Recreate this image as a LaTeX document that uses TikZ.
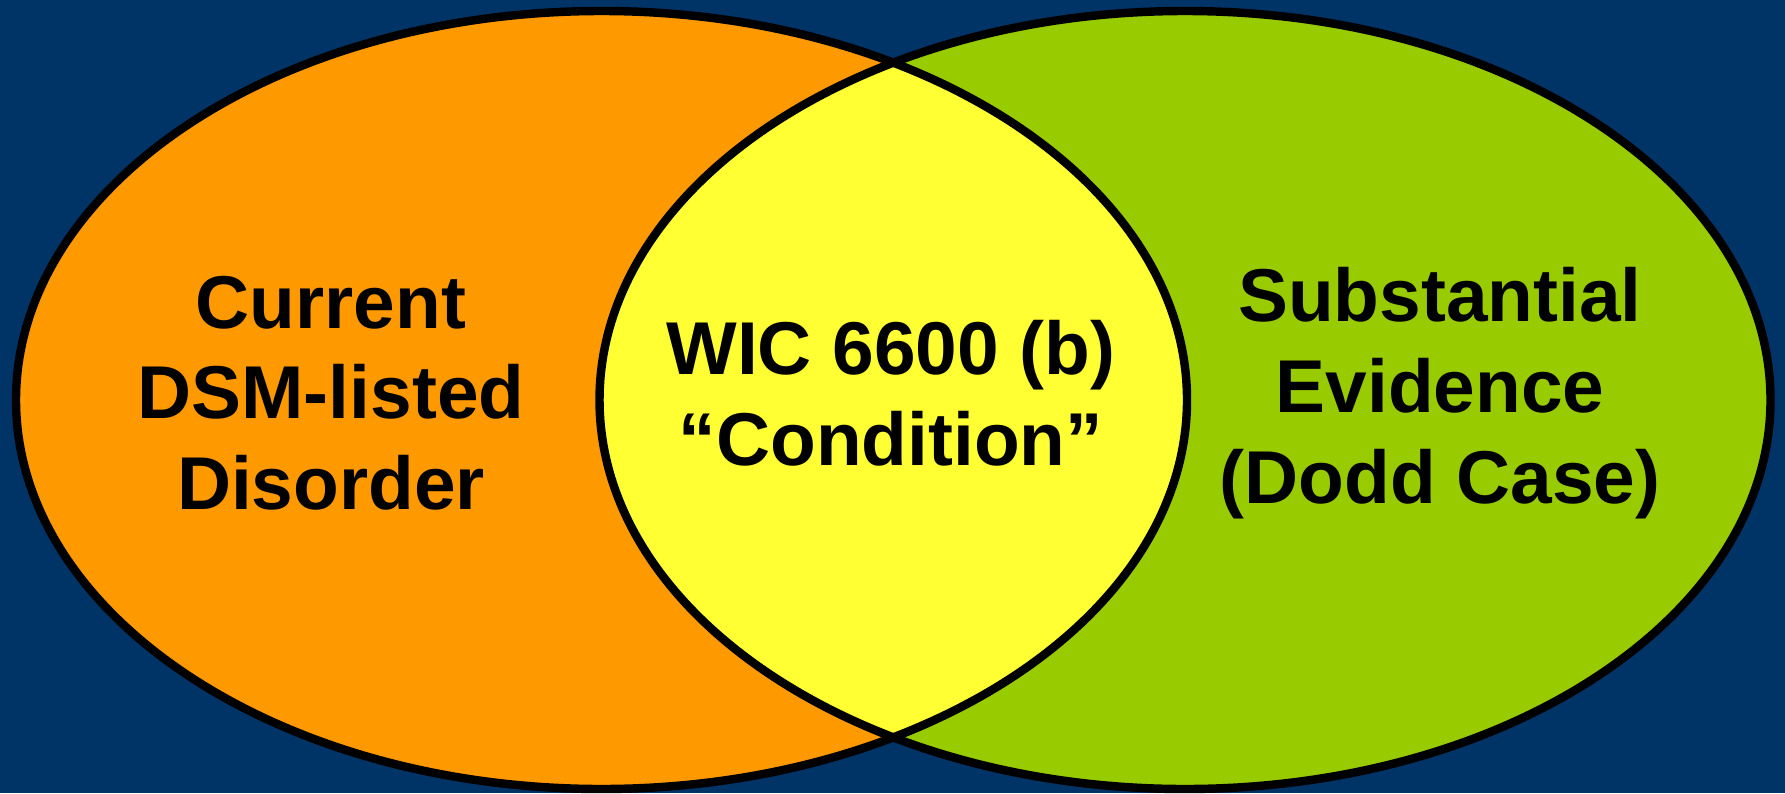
\documentclass[tikz,border=0pt]{standalone}
\usepackage{fontspec}
\setmainfont{Liberation Sans}
\usepackage{xcolor}
\usepackage{tikz}
\definecolor{bgblue}{HTML}{003366}
\definecolor{setorange}{HTML}{FF9900}
\definecolor{setgreen}{HTML}{99CC00}
\definecolor{setyellow}{HTML}{FFFF33}
\tikzset{
  rim/.style={line width=2.4pt, black},
  setlabel/.style={align=center, font=\fontsize{21.3}{25.8}\selectfont\bfseries, text=black}
}

\begin{document}
\begin{tikzpicture}
        %BACKGROUND
        \fill[bgblue] (0,0) rectangle (17.85,7.93);
        \useasboundingbox (0,0) rectangle (17.85,7.93);
        %SETS
        \fill[setorange] (6.015,3.93) ellipse (5.855 and 3.89);
        \fill[setgreen] (11.85,3.93) ellipse (5.855 and 3.89);
        \begin{scope}
            \clip (6.015,3.93) ellipse (5.855 and 3.89);
            \fill[setyellow] (11.85,3.93) ellipse (5.855 and 3.89);
        \end{scope}
        \draw[rim] (6.015,3.93) ellipse (5.855 and 3.89);
        \draw[rim] (11.85,3.93) ellipse (5.855 and 3.89);
        %LABELS
        \node[setlabel] (dsm) at (3.31,4.0) {Current\\DSM-listed\\Disorder};
        \node[setlabel] (wic) at (8.91,4.0) {WIC 6600 (b)\\“Condition”};
        \node[setlabel] (dodd) at (14.40,4.0) {Substantial\\Evidence\\(Dodd Case)};
\end{tikzpicture}
\end{document}
